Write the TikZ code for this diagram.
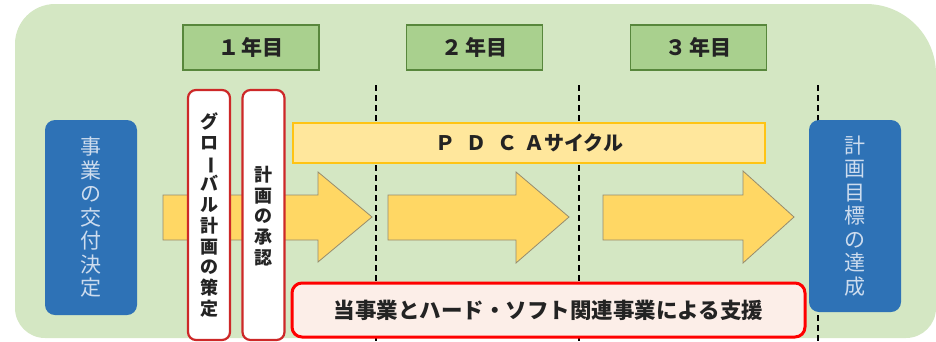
\documentclass[tikz,border=0pt]{standalone}
\usepackage{fontspec}
\newfontfamily\jp{Noto Sans CJK JP}
\usetikzlibrary{shapes.geometric}
\definecolor{bgc}{RGB}{212,231,195}
\definecolor{yearfill}{RGB}{169,208,142}
\definecolor{yeardraw}{RGB}{88,135,60}
\definecolor{bluefill}{RGB}{46,114,182}
\definecolor{bluetext}{RGB}{205,220,238}
\definecolor{redline}{RGB}{205,40,40}
\definecolor{pdcafill}{RGB}{255,231,156}
\definecolor{pdcadraw}{RGB}{255,196,20}
\definecolor{arrowfill}{RGB}{255,215,100}
\definecolor{arrowdraw}{RGB}{150,140,110}
\definecolor{supportfill}{RGB}{252,238,232}
\definecolor{textc}{RGB}{35,35,35}
\newcommand{\vbar}{\rotatebox[origin=c]{-90}{ー}}
\begin{document}
\begin{tikzpicture}[x=1pt,y=-1pt,
  yearbox/.style={draw=yeardraw,line width=1.8pt,fill=yearfill,minimum width=136pt,minimum height=45pt,inner sep=0pt,font=\jp\bfseries\fontsize{21}{21}\selectfont,text=textc},
  bluebox/.style={fill=bluefill,rounded corners=10pt,minimum width=92pt,inner sep=0pt,align=center,text=bluetext,font=\jp\fontsize{21}{23.5}\selectfont},
  redbox/.style={draw=redline,line width=2.2pt,fill=white,rounded corners=8pt,minimum width=42pt,minimum height=250pt,inner sep=0pt},
  vtext/.style={align=center,text=textc,font=\jp\bfseries\fontsize{18}{20.7}\selectfont,inner sep=0pt},
  pdcabar/.style={draw=pdcadraw,line width=2.2pt,fill=pdcafill,minimum width=472pt,minimum height=40pt,inner sep=0pt,font=\jp\bfseries\fontsize{20}{20}\selectfont,text=textc},
  supportbox/.style={draw=red,line width=3pt,fill=supportfill,rounded corners=10pt,minimum width=513pt,minimum height=54pt,inner sep=0pt,font=\jp\bfseries\fontsize{21.5}{21.5}\selectfont,text=textc},
  yeardash/.style={line width=2.2pt,dash pattern=on 6pt off 4pt,black},
  bigarrow/.style={fill=arrowfill,draw=arrowdraw,line width=0.8pt,line join=miter}
]
\useasboundingbox (0,0) rectangle (936,341);
% background
\fill[bgc] (15,44) arc[start angle=180,end angle=270,radius=40] -- (866,4)
  arc[start angle=270,end angle=360,radius=70] -- (936,308)
  arc[start angle=0,end angle=90,radius=30] -- (45,338)
  arc[start angle=90,end angle=180,radius=30] -- cycle;
% year boxes
\node[yearbox] (y1) at (251,47.5) {１\hspace{3pt}年目};
\node[yearbox] (y2) at (474.5,47.5) {２\hspace{3pt}年目};
\node[yearbox] (y3) at (698.5,47.5) {３\hspace{3pt}年目};
% dashed dividers
\coordinate (d1t) at (376,85); \coordinate (d1b) at (376,345);
\coordinate (d2t) at (579,85); \coordinate (d2b) at (579,345);
\coordinate (d3t) at (818,85); \coordinate (d3b) at (818,345);
\draw[yeardash] (d1t) -- (d1b);
\draw[yeardash] (d2t) -- (d2b);
\draw[yeardash] (d3t) -- (d3b);
% arrows
\draw[bigarrow] (163,195) -- (318,195) -- (318,172) -- (372,217) -- (318,262) -- (318,240) -- (163,240) -- cycle;
\draw[bigarrow] (388,195) -- (516,195) -- (516,172) -- (569,217) -- (516,263) -- (516,240) -- (388,240) -- cycle;
\draw[bigarrow] (603,195) -- (743,195) -- (743,171) -- (794,217) -- (743,263) -- (743,240) -- (603,240) -- cycle;
% PDCA bar
\node[pdcabar] (pdca) at (529,143) {Ｐ\hspace{11pt}Ｄ\hspace{11pt}Ｃ\hspace{7pt}Ａサイクル};
% blue boxes
\node[bluebox,minimum height=195pt] (start) at (91,217.5) {事\\業\\の\\交\\付\\決\\定};
\node[bluebox,minimum height=192pt] (goal) at (855,216) {計\\画\\目\\標\\の\\達\\成};
% red vertical boxes
\node[redbox] (global) at (209,215) {};
\node[vtext] (globalt) at (global.center) {グ\\ロ\\\vbar\\バ\\ル\\計\\画\\の\\策\\定};
\node[redbox] (approve) at (263.5,215) {};
\node[vtext] (approvet) at (263.5,216) {計\\画\\の\\承\\認};
% support box
\node[supportbox] (support) at (548.5,310) {当事業とハード・ソフト関連事業による支援};
\end{tikzpicture}
\end{document}
